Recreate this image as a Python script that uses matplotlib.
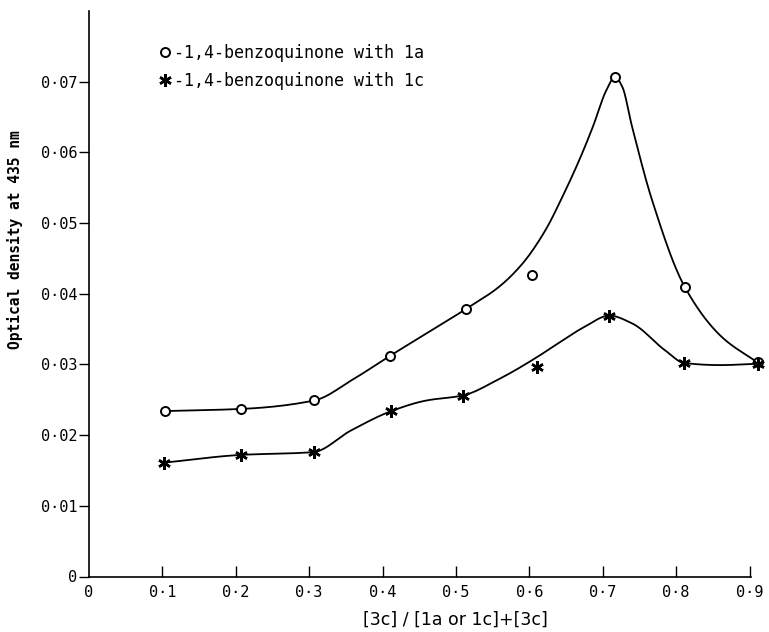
import numpy as np
import matplotlib
matplotlib.use("Agg")
import matplotlib.pyplot as plt

# measured points (x = mole fraction, y = optical density)
ring_x = [0.103, 0.207, 0.307, 0.410, 0.513, 0.603, 0.717, 0.812, 0.912]
ring_y = [0.0234, 0.0237, 0.0249, 0.0312, 0.0378, 0.0426, 0.0707, 0.0410, 0.0303]
star_x = [0.102, 0.207, 0.306, 0.412, 0.509, 0.611, 0.709, 0.811, 0.912]
star_y = [0.0161, 0.0172, 0.0176, 0.0234, 0.0256, 0.0296, 0.0369, 0.0302, 0.0301]

# hand-drawn guide curves
ring_curve_x = [0.103, 0.207, 0.307, 0.360, 0.410, 0.513, 0.559, 0.591, 0.622, 0.645,
                0.668, 0.6865, 0.705, 0.7165, 0.7265, 0.740, 0.767,
                0.8115, 0.862, 0.912]
ring_curve_y = [0.0234, 0.0237, 0.0249, 0.0279, 0.0312, 0.0378, 0.0410, 0.0443, 0.0490, 0.0537,
                0.0589, 0.0636, 0.0688, 0.0707, 0.0693, 0.0636, 0.0533,
                0.0410, 0.0339, 0.0302]
star_curve_x = [0.102, 0.207, 0.306, 0.356, 0.412, 0.460, 0.509, 0.560, 0.610,
                0.641, 0.675, 0.709, 0.740, 0.786, 0.811, 0.860, 0.912]
star_curve_y = [0.0161, 0.0172, 0.0176, 0.0206, 0.0234, 0.0249, 0.0256, 0.0280, 0.0310,
                0.0331, 0.0353, 0.0369, 0.0358, 0.0319, 0.0302, 0.0299, 0.0301]

x_ticks = [0, 0.1, 0.2, 0.3, 0.4, 0.5, 0.6, 0.7, 0.8, 0.9]
x_labels = ["0", "0·1", "0·2", "0·3", "0·4", "0·5", "0·6", "0·7", "0·8", "0·9"]
y_ticks = [0, 0.01, 0.02, 0.03, 0.04, 0.05, 0.06, 0.07]
y_labels = ["0", "0·01", "0·02", "0·03", "0·04", "0·05", "0·06", "0·07"]


def smooth(xs, ys, n=20):
    # monotone cubic (pchip) through the read points, only for drawing the line
    x = np.asarray(xs, float)
    y = np.asarray(ys, float)
    h = np.diff(x)
    d = np.diff(y) / h
    m = np.zeros_like(y)
    for k in range(1, len(x) - 1):
        if d[k - 1] * d[k] > 0:
            w1 = 2 * h[k] + h[k - 1]
            w2 = h[k] + 2 * h[k - 1]
            m[k] = (w1 + w2) / (w1 / d[k - 1] + w2 / d[k])
    m[0], m[-1] = d[0], d[-1]
    px, py = [], []
    t = np.linspace(0, 1, n, endpoint=False)
    for k in range(len(x) - 1):
        h00 = 2 * t ** 3 - 3 * t ** 2 + 1
        h10 = t ** 3 - 2 * t ** 2 + t
        h01 = -2 * t ** 3 + 3 * t ** 2
        h11 = t ** 3 - t ** 2
        px.append(x[k] + t * h[k])
        py.append(h00 * y[k] + h10 * h[k] * m[k] + h01 * y[k + 1] + h11 * h[k] * m[k + 1])
    px.append([x[-1]])
    py.append([y[-1]])
    return np.concatenate(px), np.concatenate(py)


mono = "DejaVu Sans Mono"
fig = plt.figure(figsize=(7.69, 6.32), dpi=100)
ax = fig.add_axes([89 / 769, 55.5 / 632, 662 / 769, 565.6 / 632])

cx, cy = smooth(ring_curve_x, ring_curve_y)
ax.plot(cx, cy, color="black", lw=1.3, clip_on=False)
cx, cy = smooth(star_curve_x, star_curve_y)
ax.plot(cx, cy, color="black", lw=1.3, clip_on=False)

h1, = ax.plot(ring_x, ring_y, ls="none", marker="o", ms=6.5, mfc="white", mec="black",
              mew=1.4, clip_on=False, zorder=3)
h2, = ax.plot(star_x, star_y, ls="none", marker=(6, 2, 0), ms=9, mec="black",
              mew=1.8, clip_on=False, zorder=3)

ax.set_xlim(0, 0.902)
ax.set_ylim(0, 0.08)
ax.set_xticks(x_ticks)
ax.set_xticklabels(x_labels, family=mono, fontsize=11)
ax.set_yticks(y_ticks)
ax.set_yticklabels(y_labels, family=mono, fontsize=11)
ax.tick_params(axis="x", direction="in", length=8, width=1, pad=6)
ax.tick_params(axis="y", direction="out", length=7, width=1, pad=1.5)
ax.xaxis.get_major_ticks()[0].tick1line.set_visible(False)

for s in ["top", "right"]:
    ax.spines[s].set_visible(False)
for s in ["left", "bottom"]:
    ax.spines[s].set_linewidth(1.2)

ax.set_ylabel("Optical density at 435 nm", family=mono, fontsize=10.5, fontweight="bold")
ax.yaxis.set_label_coords(-0.100, 0.595)
ax.text(0.554, -0.077, "[3c] / [1a or 1c]+[3c]", transform=ax.transAxes,
        ha="center", va="center", fontsize=12.5)

ax.legend([h1, h2], ["-1,4-benzoquinone with 1a", "-1,4-benzoquinone with 1c"],
          loc="upper left", bbox_to_anchor=(0.108, 0.942), frameon=False,
          prop={"family": mono, "size": 12}, handlelength=0.6, handletextpad=0.2,
          borderpad=0, borderaxespad=0, labelspacing=0.62)

fig.savefig("out.png", dpi=100)
